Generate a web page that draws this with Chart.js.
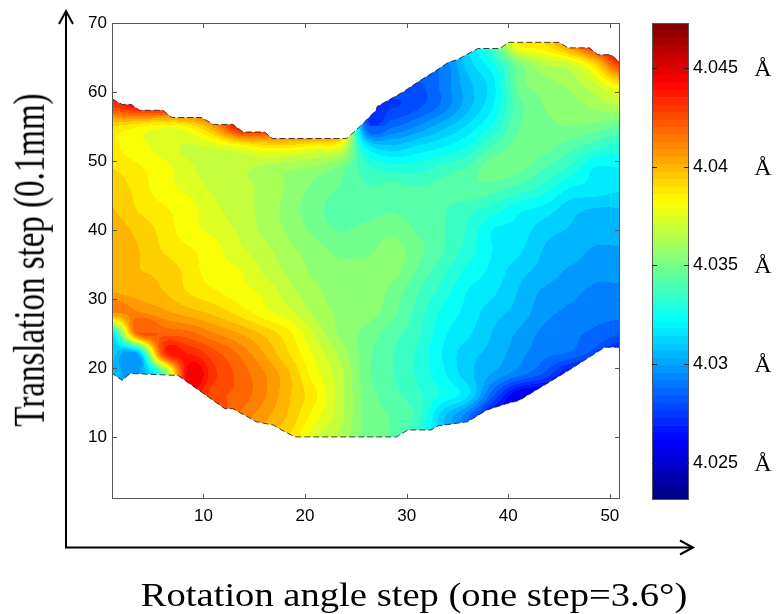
<!DOCTYPE html>
<html>
<head>
<meta charset="utf-8">
<script src="https://cdn.jsdelivr.net/npm/chart.js@4.4.1/dist/chart.umd.min.js"></script>
<style>
  html, body { margin: 0; padding: 0; background: #fff; }
  #wrap { position: relative; width: 776px; height: 614px; overflow: hidden; }
  #main { position: absolute; left: 0; top: 0; }
  #bar { position: absolute; left: 640px; top: 0; }
  .ttl { position: absolute; font-family: 'Liberation Serif', 'Times New Roman', serif; font-size: 33px;
         line-height: 33px; white-space: nowrap; color: #000; }
  #xt { left: 414px; top: 579px; transform: translateX(-50%) scaleX(1.17); }
  #yt { left: 30px; top: 260px; transform: translate(-50%, -50%) rotate(-90deg) scaleY(1.36); }
</style>
</head>
<body>
<div id="wrap">
  <canvas id="main" width="776" height="614"></canvas>
  <canvas id="bar" width="136" height="614"></canvas>
  <div class="ttl" id="yt">Translation step (0.1mm)</div>
  <div class="ttl" id="xt">Rotation angle step (one step=3.6°)</div>
</div>
<script>
// Lattice nodes: rotation step (x) and translation step (y)
const xNodes = [1, 3.5, 6, 8.5, 11, 13.5, 16, 18.5, 21, 23.5, 26, 28.5, 31, 33.5, 36, 38.5, 41, 43.5, 46, 48.5, 51];
const yNodes = [70, 67, 64, 61, 58, 55, 52, 49, 46, 43, 40, 37, 34, 31, 28, 25, 22, 19, 16, 13, 10];

// Lattice parameter (Å) at each node, one row per translation step
const row70 = [4.044,4.044,4.044,4.044,4.044,4.044,4.044,4.044,4.044,4.044,4.028,4.028,4.028,4.029,4.031,4.034,4.0385,4.039,4.041,4.044,4.046];
const row67 = [4.044,4.044,4.044,4.044,4.044,4.044,4.044,4.044,4.044,4.044,4.028,4.028,4.028,4.030,4.0315,4.034,4.0385,4.039,4.041,4.044,4.046];
const row64 = [4.044,4.044,4.044,4.044,4.044,4.044,4.044,4.044,4.044,4.044,4.028,4.028,4.029,4.029,4.031,4.0325,4.035,4.0365,4.037,4.039,4.043];
const row61 = [4.044,4.044,4.044,4.044,4.044,4.044,4.044,4.044,4.044,4.044,4.028,4.028,4.028,4.029,4.0305,4.0318,4.0348,4.0355,4.036,4.037,4.0385];
const row58 = [4.043,4.044,4.044,4.044,4.044,4.044,4.044,4.044,4.044,4.044,4.028,4.0275,4.028,4.029,4.0305,4.032,4.0343,4.0352,4.0355,4.036,4.0365];
const row55 = [4.039,4.0385,4.038,4.0385,4.0405,4.044,4.044,4.044,4.044,4.042,4.0285,4.0287,4.0295,4.0305,4.0315,4.0328,4.0345,4.035,4.0352,4.035,4.0345];
const row52 = [4.0385,4.038,4.0375,4.037,4.0372,4.0378,4.0385,4.0385,4.038,4.0375,4.032,4.031,4.0315,4.032,4.0327,4.034,4.0348,4.0348,4.0342,4.0335,4.033];
const row49 = [4.039,4.0385,4.038,4.0373,4.0367,4.0367,4.0363,4.036,4.0357,4.035,4.0335,4.033,4.033,4.0335,4.034,4.035,4.0348,4.034,4.0332,4.032,4.032];
const row46 = [4.0395,4.0388,4.038,4.0376,4.037,4.0367,4.0363,4.0357,4.035,4.0345,4.034,4.0342,4.034,4.0342,4.0345,4.0342,4.0337,4.033,4.032,4.0318,4.0315];
const row43 = [4.0397,4.039,4.0385,4.038,4.0373,4.0367,4.0363,4.0355,4.0348,4.0342,4.0342,4.0345,4.0342,4.034,4.0335,4.033,4.0322,4.0318,4.031,4.0307,4.0307];
const row40 = [4.040,4.0395,4.0388,4.038,4.0376,4.037,4.0363,4.0357,4.035,4.0345,4.0348,4.035,4.0345,4.034,4.0332,4.032,4.0318,4.031,4.0307,4.0305,4.0305];
const row37 = [4.040,4.0397,4.039,4.0385,4.038,4.0373,4.0367,4.036,4.0355,4.035,4.035,4.0355,4.0348,4.034,4.033,4.032,4.0315,4.0307,4.0305,4.030,4.030];
const row34 = [4.040,4.0397,4.0395,4.0388,4.038,4.0378,4.037,4.0363,4.0357,4.0355,4.0357,4.0355,4.0345,4.0335,4.0325,4.0318,4.031,4.0305,4.030,4.0297,4.0297];
const row31 = [4.0403,4.040,4.0397,4.039,4.0385,4.038,4.0376,4.0367,4.036,4.0355,4.0357,4.035,4.034,4.033,4.032,4.0315,4.0307,4.030,4.0297,4.0293,4.0293];
const row28 = [4.041,4.041,4.0405,4.040,4.0395,4.0388,4.038,4.0373,4.0363,4.0357,4.0355,4.0348,4.0337,4.0325,4.0318,4.031,4.0305,4.0297,4.0293,4.029,4.029];
const row25 = [4.0318,4.042,4.042,4.0418,4.041,4.0403,4.0395,4.0385,4.037,4.0357,4.035,4.0342,4.0335,4.0322,4.0315,4.0307,4.030,4.0293,4.029,4.0287,4.0283];
const row22 = [4.031,4.030,4.0425,4.0435,4.0425,4.0415,4.0403,4.039,4.0376,4.0363,4.0348,4.034,4.0332,4.032,4.031,4.0305,4.0297,4.029,4.0287,4.0278,4.0265];
const row19 = [4.0305,4.030,4.034,4.0445,4.043,4.042,4.041,4.0397,4.038,4.0367,4.0348,4.034,4.0332,4.0322,4.031,4.030,4.029,4.028,4.0262,4.0255,4.0255];
const row16 = [4.030,4.030,4.043,4.044,4.0425,4.042,4.041,4.0397,4.0385,4.0367,4.035,4.0342,4.0335,4.0325,4.0315,4.0283,4.0255,4.025,4.025,4.025,4.025];
const row13 = [4.030,4.030,4.043,4.044,4.043,4.0415,4.0405,4.0395,4.038,4.0367,4.035,4.0345,4.0337,4.031,4.029,4.026,4.025,4.025,4.025,4.025,4.025];
const row10 = [4.030,4.030,4.043,4.044,4.043,4.041,4.040,4.039,4.0373,4.0363,4.035,4.0345,4.033,4.031,4.029,4.026,4.025,4.025,4.025,4.025,4.025];
const valueRows = [row70, row67, row64, row61, row58, row55, row52, row49, row46, row43, row40,
                   row37, row34, row31, row28, row25, row22, row19, row16, row13, row10];

// Edge of the measured region: upper edge left to right, lower edge right to left
const topEdge = [[1,59],[2,58.2],[2.9,58.2],[3.7,57.35],[6,57.35],[6.9,56.3],[9.8,56.3],[11,55.3],[12.9,55.3],
  [13.9,54.2],[16,54.2],[16.8,53.25],[24.1,53.25],[25.4,55],[27,57.35],[27.1,57.9],[29.65,60],[31.1,61.45],
  [32.9,63.1],[34.1,64.3],[35,64.7],[37,66.3],[39.2,66.3],[40,67.2],[45,67.2],[45.9,66.4],[48,66.4],
  [48.8,65.4],[50.1,65.4],[51,64.3]];
const bottomEdge = [[51,23],[49.5,23],[46,19.7],[41.1,15.3],[39.8,14.8],[37.9,13.9],[36,12.2],[33.1,11.6],
  [32.4,11],[30.1,11],[29,10],[19,10],[17.7,11],[16.9,11.7],[15.2,12.2],[12.9,14.1],[12.1,14.1],
  [7.5,18.9],[2.8,19.2],[2,18.2],[1,19.2]];

// Axis ticks and colour scale
const xTickValues = [10, 20, 30, 40, 50];
const yTickValues = [10, 20, 30, 40, 50, 60, 70];
const barTickValues = [4.025, 4.03, 4.035, 4.04, 4.045];
const barTickLabels = ['4.025', '4.03', '4.035', '4.04', '4.045'];
const unitLabel = 'Å';
const colorMin = 4.0231, colorMax = 4.0473;

const FIELD_LEVELS = 38;
const BAR_BANDS = 64;
const tickFont = { family: "'Liberation Sans', Arial, sans-serif", size: 17 };
const barTickFont = { family: "'Liberation Sans', Arial, sans-serif", size: 18 };

function jet(t) {
  const c = v => Math.round(255 * Math.max(0, Math.min(1, v)));
  return [c(1.5 - Math.abs(4 * t - 3)), c(1.5 - Math.abs(4 * t - 2)), c(1.5 - Math.abs(4 * t - 1))];
}
function levelColor(v, n) {
  let k = Math.floor((v - colorMin) / (colorMax - colorMin) * n);
  k = Math.max(0, Math.min(n - 1, k));
  return jet((k + 0.5) / n);
}
function clamp01(f) { return Math.max(0, Math.min(1, f)); }
function cubic(p0, p1, p2, p3, t) {
  return p1 + 0.5 * t * (p2 - p0 + t * (2 * p0 - 5 * p1 + 4 * p2 - p3 + t * (3 * (p1 - p2) + p3 - p0)));
}
function node(j, i) {
  const jj = Math.max(0, Math.min(yNodes.length - 1, j));
  const ii = Math.max(0, Math.min(xNodes.length - 1, i));
  return valueRows[jj][ii];
}
// Smooth (Catmull-Rom) reading of the lattice, held within the surrounding cell's range
function sample(xv, yv) {
  let i = 0; while (i < xNodes.length - 2 && xv > xNodes[i + 1]) i++;
  let j = 0; while (j < yNodes.length - 2 && yv < yNodes[j + 1]) j++;
  const fx = clamp01((xv - xNodes[i]) / (xNodes[i + 1] - xNodes[i]));
  const fy = clamp01((yNodes[j] - yv) / (yNodes[j] - yNodes[j + 1]));
  const r = [];
  for (let m = -1; m <= 2; m++) {
    r.push(cubic(node(j + m, i - 1), node(j + m, i), node(j + m, i + 1), node(j + m, i + 2), fx));
  }
  const v = cubic(r[0], r[1], r[2], r[3], fy);
  const a = node(j, i), b = node(j, i + 1), c = node(j + 1, i), d = node(j + 1, i + 1);
  return Math.max(Math.min(a, b, c, d), Math.min(Math.max(a, b, c, d), v));
}

// Filled contour field, clipped to the measured region
const fieldPlugin = {
  id: 'field',
  beforeDatasetsDraw(chart) {
    const { ctx, chartArea: a, scales: { x, y } } = chart;
    const w = Math.round(a.right - a.left), h = Math.round(a.bottom - a.top);
    const off = document.createElement('canvas');
    off.width = w; off.height = h;
    const octx = off.getContext('2d');
    const img = octx.createImageData(w, h);
    for (let py = 0; py < h; py++) {
      const yv = y.getValueForPixel(a.top + py + 0.5);
      for (let px = 0; px < w; px++) {
        const xv = x.getValueForPixel(a.left + px + 0.5);
        const col = levelColor(sample(xv, yv), FIELD_LEVELS);
        const k = (py * w + px) * 4;
        img.data[k] = col[0]; img.data[k + 1] = col[1]; img.data[k + 2] = col[2]; img.data[k + 3] = 255;
      }
    }
    octx.putImageData(img, 0, 0);
    ctx.save();
    ctx.beginPath();
    topEdge.concat(bottomEdge).forEach(([xv, yv], i) => {
      const X = x.getPixelForValue(xv), Y = y.getPixelForValue(yv);
      if (i === 0) ctx.moveTo(X, Y); else ctx.lineTo(X, Y);
    });
    ctx.closePath();
    ctx.clip();
    ctx.drawImage(off, a.left, a.top);
    ctx.restore();
  }
};

// Axes box with inward ticks, plus the two arrows
const framePlugin = {
  id: 'frame',
  afterDraw(chart) {
    const { ctx, chartArea: a, scales: { x, y } } = chart;
    ctx.save();
    ctx.strokeStyle = '#555';
    ctx.lineWidth = 1;
    ctx.strokeRect(a.left + 0.5, a.top + 0.5, a.right - a.left - 1, a.bottom - a.top - 1);
    ctx.beginPath();
    xTickValues.forEach(v => {
      const X = Math.round(x.getPixelForValue(v)) + 0.5;
      ctx.moveTo(X, a.bottom); ctx.lineTo(X, a.bottom - 5);
      ctx.moveTo(X, a.top); ctx.lineTo(X, a.top + 5);
    });
    yTickValues.forEach(v => {
      const Y = Math.round(y.getPixelForValue(v)) + 0.5;
      ctx.moveTo(a.left, Y); ctx.lineTo(a.left + 5, Y);
      ctx.moveTo(a.right, Y); ctx.lineTo(a.right - 5, Y);
    });
    ctx.stroke();

    ctx.strokeStyle = '#000';
    ctx.lineWidth = 2;
    const ox = a.left - 46, oy = a.bottom + 48.5;
    ctx.beginPath();
    ctx.moveTo(ox, oy); ctx.lineTo(ox, 11);
    ctx.moveTo(ox - 7, 24); ctx.lineTo(ox, 11); ctx.lineTo(ox + 7, 24);
    ctx.moveTo(ox - 1, oy); ctx.lineTo(693, oy);
    ctx.moveTo(680, oy - 7); ctx.lineTo(693, oy); ctx.lineTo(680, oy + 7);
    ctx.stroke();
    ctx.restore();
  }
};

const edgeStyle = { showLine: true, borderColor: 'rgba(25,25,25,0.8)', borderWidth: 1,
                    borderDash: [6, 3], pointRadius: 0, fill: false };

new Chart(document.getElementById('main'), {
  type: 'scatter',
  data: {
    datasets: [
      Object.assign({ data: topEdge.map(([x, y]) => ({ x, y })) }, edgeStyle),
      Object.assign({ data: bottomEdge.map(([x, y]) => ({ x, y })) }, edgeStyle)
    ]
  },
  options: {
    responsive: false, animation: false, events: [],
    layout: { padding: { left: 0, top: 23, right: 156, bottom: 0 } },
    plugins: { legend: { display: false }, tooltip: { enabled: false } },
    scales: {
      x: {
        type: 'linear', min: 1, max: 51,
        afterBuildTicks(s) { s.ticks = xTickValues.map(v => ({ value: v })); },
        afterFit(s) { s.height = 115; },
        grid: { display: false, drawTicks: false }, border: { display: false },
        ticks: { padding: 7, color: '#000', font: tickFont, maxRotation: 0, autoSkip: false }
      },
      y: {
        type: 'linear', min: 1, max: 70,
        afterBuildTicks(s) { s.ticks = yTickValues.map(v => ({ value: v })); },
        afterFit(s) { s.width = 112; },
        grid: { display: false, drawTicks: false }, border: { display: false },
        ticks: { padding: 5, color: '#000', font: tickFont, autoSkip: false }
      }
    }
  },
  plugins: [fieldPlugin, framePlugin]
});

// Colour bar: one floating bar per colour band
const bands = [];
for (let k = 0; k < BAR_BANDS; k++) {
  const lo = colorMin + (colorMax - colorMin) * k / BAR_BANDS;
  const hi = colorMin + (colorMax - colorMin) * (k + 1) / BAR_BANDS;
  const c = jet((k + 0.5) / BAR_BANDS);
  bands.push({ lo, hi, color: `rgb(${c[0]},${c[1]},${c[2]})` });
}

const barFramePlugin = {
  id: 'barFrame',
  afterDraw(chart) {
    const { ctx, chartArea: a, scales: { y } } = chart;
    ctx.save();
    ctx.strokeStyle = '#555';
    ctx.lineWidth = 1;
    ctx.strokeRect(a.left + 0.5, a.top + 0.5, a.right - a.left - 1, a.bottom - a.top - 1);
    ctx.strokeStyle = '#222';
    ctx.beginPath();
    barTickValues.forEach(v => {
      const Y = Math.round(y.getPixelForValue(v)) + 0.5;
      ctx.moveTo(a.left, Y); ctx.lineTo(a.left + 5, Y);
      ctx.moveTo(a.right, Y); ctx.lineTo(a.right - 5, Y);
    });
    ctx.stroke();
    ctx.fillStyle = '#000';
    ctx.font = "24px 'Liberation Serif', 'Times New Roman', serif";
    ctx.textAlign = 'center';
    ctx.textBaseline = 'alphabetic';
    barTickValues.forEach(v => {
      ctx.fillText(unitLabel, a.right + 74, y.getPixelForValue(v) + 8);
    });
    ctx.restore();
  }
};

new Chart(document.getElementById('bar'), {
  type: 'bar',
  data: {
    labels: [''],
    datasets: bands.map(b => ({
      data: [[b.lo, b.hi]], backgroundColor: b.color, borderWidth: 0,
      barPercentage: 1, categoryPercentage: 1, grouped: false
    }))
  },
  options: {
    responsive: false, animation: false, events: [],
    layout: { padding: { left: 12, top: 23, right: 0, bottom: 114 } },
    plugins: { legend: { display: false }, tooltip: { enabled: false } },
    scales: {
      x: { display: false },
      y: {
        position: 'right', min: colorMin, max: colorMax,
        afterBuildTicks(s) { s.ticks = barTickValues.map(v => ({ value: v })); },
        afterFit(s) { s.width = 87; },
        grid: { display: false, drawTicks: false }, border: { display: false },
        ticks: { padding: 4, color: '#000', font: barTickFont, autoSkip: false,
                 callback: (v, i) => barTickLabels[i] }
      }
    }
  },
  plugins: [barFramePlugin]
});
</script>
</body>
</html>
